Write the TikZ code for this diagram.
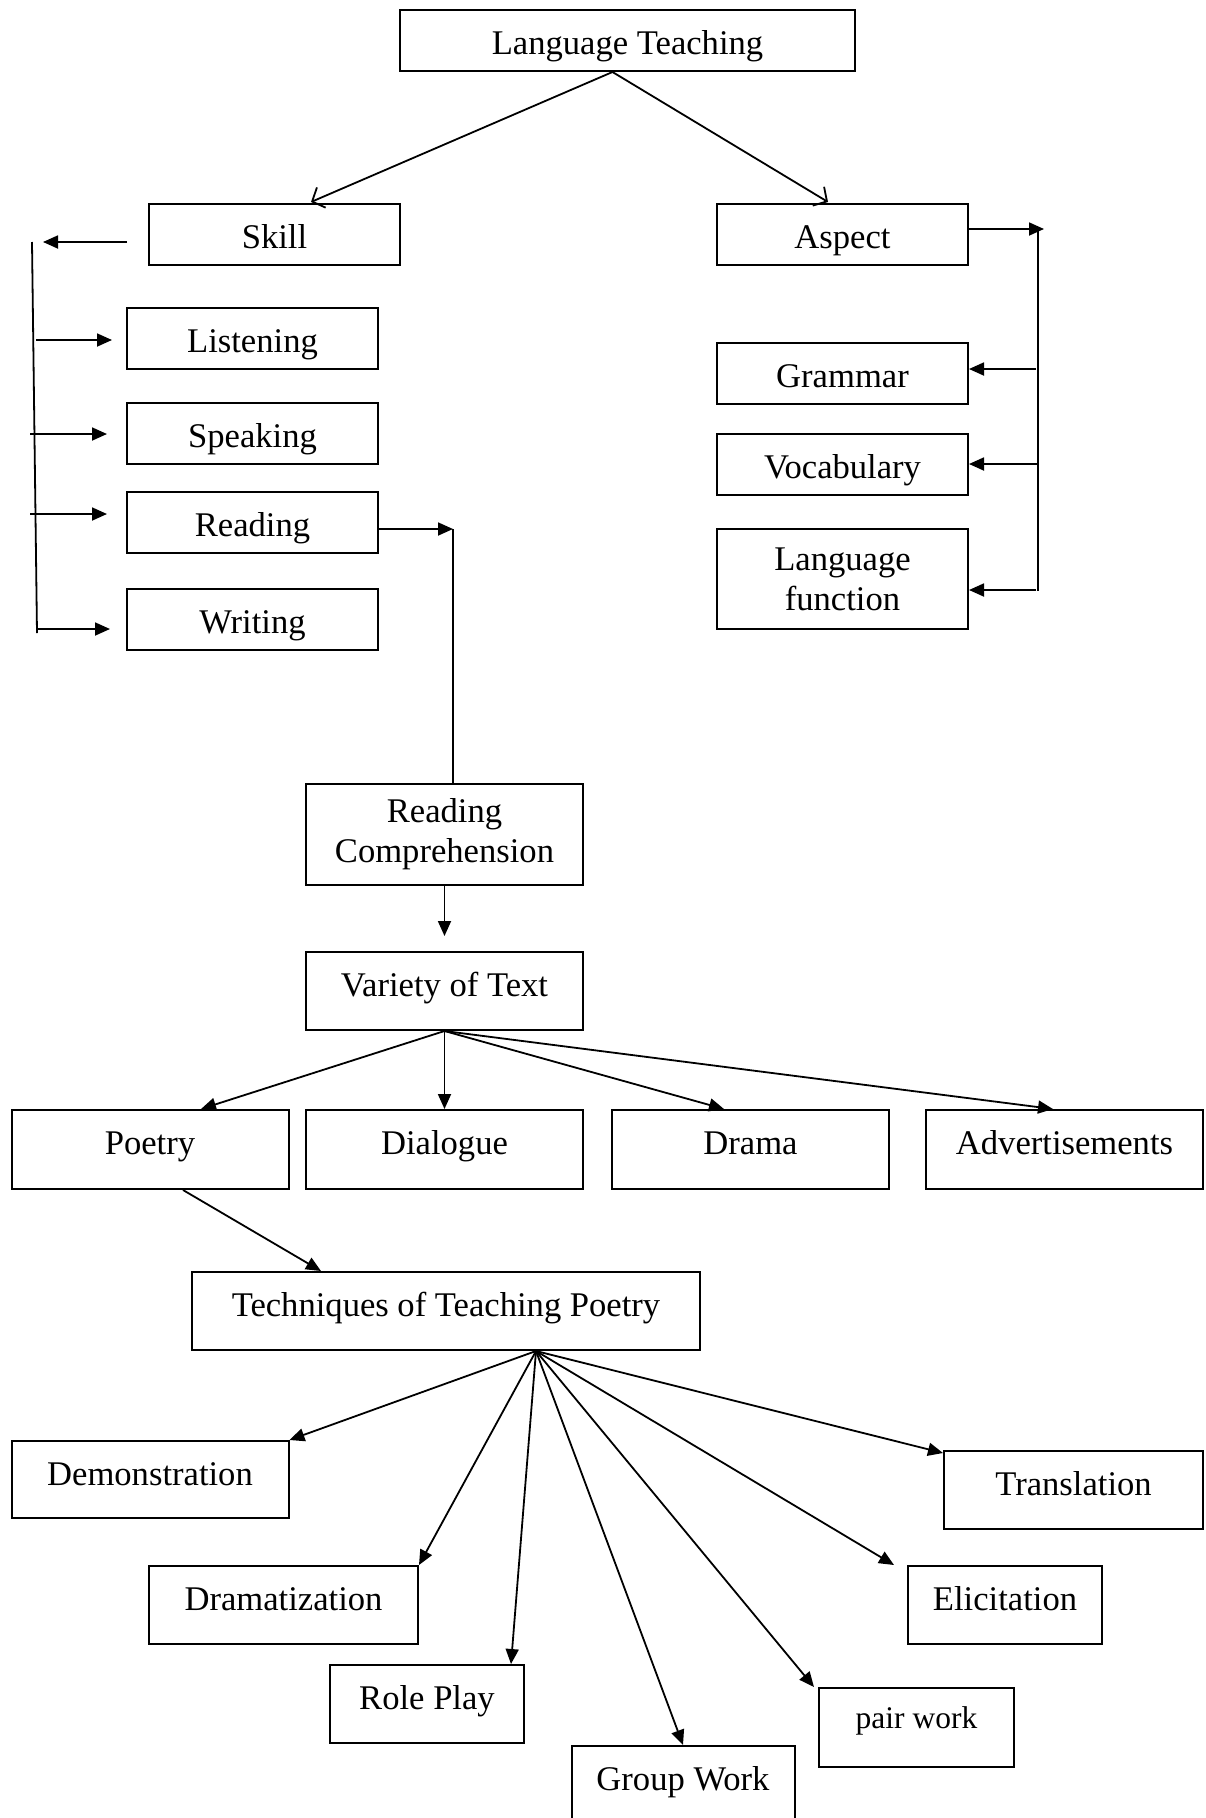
\documentclass[tikz,border=0pt]{standalone}
\usepackage{fontspec}
\setmainfont{Liberation Serif}
\usetikzlibrary{arrows.meta,calc}
\begin{document}
\begin{tikzpicture}[x=1pt,y=-1pt,
  box/.style={draw, line width=2pt, inner sep=0pt, align=center,
    font=\fontsize{34.6}{40}\selectfont, minimum width=251pt, minimum height=61pt},
  tb/.style={text height=44.5pt, text depth=#1},
  ln/.style={line width=1.8pt},
  arr/.style={ln, -{Triangle[length=15pt,width=13pt]}},
  oarr/.style={ln, -{Straight Barb[length=10pt,width=22pt,line width=1.8pt]}}
]
\useasboundingbox (0,0) rectangle (1205,1818);

% top level
\node[box, tb=16.5pt, minimum width=455pt] (lt) at (627.5,40.5) {Language Teaching};
\node[box, tb=16.5pt] (skill) at (274.5,234.5) {Skill};
\node[box, tb=16.5pt] (aspect) at (842.5,234.5) {Aspect};

% skills
\node[box, tb=16.5pt] (listening) at (252.5,338.5) {Listening};
\node[box, tb=16.5pt] (speaking) at (252.5,433.5) {Speaking};
\node[box, tb=16.5pt] (reading) at (252.5,522.5) {Reading};
\node[box, tb=16.5pt] (writing) at (252.5,619.5) {Writing};

% aspects
\node[box, tb=16.5pt] (grammar) at (842.5,373.5) {Grammar};
\node[box, tb=16.5pt] (vocab) at (842.5,464.5) {Vocabulary};
\node[box, minimum height=100pt] (langfunc) at (842.5,579) {Language\\function};

% reading chain
\node[box, minimum width=277pt, minimum height=101pt] (rc) at (444.5,834.5) {Reading\\Comprehension};
\node[box, tb=33.5pt, minimum width=277pt, minimum height=78pt] (vot) at (444.5,991) {Variety of Text};
\node[box, tb=34.5pt, minimum width=277pt, minimum height=79pt] (poetry) at (150,1149.5) {Poetry};
\node[box, tb=34.5pt, minimum width=277pt, minimum height=79pt] (dialogue) at (444.5,1149.5) {Dialogue};
\node[box, tb=34.5pt, minimum width=277pt, minimum height=79pt] (drama) at (750.5,1149.5) {Drama};
\node[box, tb=34.5pt, minimum width=277pt, minimum height=79pt] (advert) at (1064.5,1149.5) {Advertisements};

% techniques
\node[box, tb=33.5pt, minimum width=508pt, minimum height=78pt] (tech) at (446,1311) {Techniques of Teaching Poetry};
\node[box, tb=32.5pt, minimum width=277pt, minimum height=77pt] (demo) at (150,1479.5) {Demonstration};
\node[box, tb=33.5pt, minimum width=259pt, minimum height=78pt] (transl) at (1073.5,1490) {Translation};
\node[box, tb=33.5pt, minimum width=269pt, minimum height=78pt] (dramat) at (283.5,1605) {Dramatization};
\node[box, tb=33.5pt, minimum width=194pt, minimum height=78pt] (elic) at (1005,1605) {Elicitation};
\node[box, tb=33.5pt, minimum width=194pt, minimum height=78pt] (role) at (427,1704) {Role Play};
\node[box, text height=40.5pt, text depth=38.5pt, minimum width=195pt, minimum height=79pt,
      font=\fontsize{31.5}{38}\selectfont] (pair) at (916.5,1727.5) {pair work};
\node[box, tb=35.5pt, minimum width=223pt, minimum height=80pt] (group) at (683,1786) {Group Work};

% Language Teaching -> Skill / Aspect
\draw[oarr] ([xshift=-15pt]lt.south) -- ([xshift=36.5pt,yshift=1pt]skill.north);
\draw[oarr] ([xshift=-15pt]lt.south) -- ([xshift=-14.5pt,yshift=1pt]aspect.north);

% skill bracket (left)
\coordinate (sk1) at (32,242);
\coordinate (sk2) at (37,633);
\draw[arr] ($(skill.west)+(-21,7.5)$) -- ($(skill.west)+(-105,7.5)$);
\draw[ln] (sk1) -- (sk2);
\draw[arr] ($(listening.west)+(-90,1.5)$) -- ($(listening.west)+(-14,1.5)$);
\draw[arr] ($(speaking.west)+(-96,0.5)$) -- ($(speaking.west)+(-19,0.5)$);
\draw[arr] ($(reading.west)+(-96,-8.5)$) -- ($(reading.west)+(-19,-8.5)$);
\draw[arr] ($(writing.west)+(-90,9.5)$) -- ($(writing.west)+(-16,9.5)$);

% reading -> reading comprehension
\coordinate (rdcorner) at (453,529);
\draw[arr] ($(reading.east)+(0,6.5)$) -- (rdcorner);
\draw[ln] (rdcorner) -- ($(rc.north)+(8.5,0)$);

% aspect bracket (right)
\coordinate (as1) at (1038,229);
\coordinate (as2) at (1038,591);
\draw[arr] ($(aspect.east)+(0,-5.5)$) -- ($(aspect.east)+(75,-5.5)$);
\draw[ln] (as1) -- (as2);
\draw[arr] ($(grammar.east)+(67,-4.5)$) -- ($(grammar.east)+(0,-4.5)$);
\draw[arr] ($(vocab.east)+(69,-0.5)$) -- ($(vocab.east)+(0,-0.5)$);
\draw[arr] ($(langfunc.east)+(67,11)$) -- ($(langfunc.east)+(0,11)$);

% reading comprehension -> variety of text
\draw[arr] (rc.south) -- ++(0,50);

% variety of text -> kinds
\draw[arr] (vot.south) -- ([xshift=51pt]poetry.north);
\draw[arr] (vot.south) -- (dialogue.north);
\draw[arr] (vot.south) -- ([xshift=-26.5pt]drama.north);
\draw[arr] (vot.south) -- ([xshift=-11.5pt]advert.north);

% poetry -> techniques
\draw[arr] ([xshift=33pt]poetry.south) -- ([xshift=-125pt]tech.north);

% techniques -> methods
\coordinate (ts) at ($(tech.south)+(90,0)$);
\draw[arr] (ts) -- (demo.north east);
\draw[arr] (ts) -- ([yshift=-3pt]transl.north west);
\draw[arr] (ts) -- (dramat.north east);
\draw[arr] (ts) -- ([xshift=-13pt]elic.north west);
\draw[arr] (ts) -- ([xshift=-14pt]role.north east);
\draw[arr] (ts) -- (group.north);
\draw[arr] (ts) -- ([xshift=-4pt]pair.north west);
\end{tikzpicture}
\end{document}
